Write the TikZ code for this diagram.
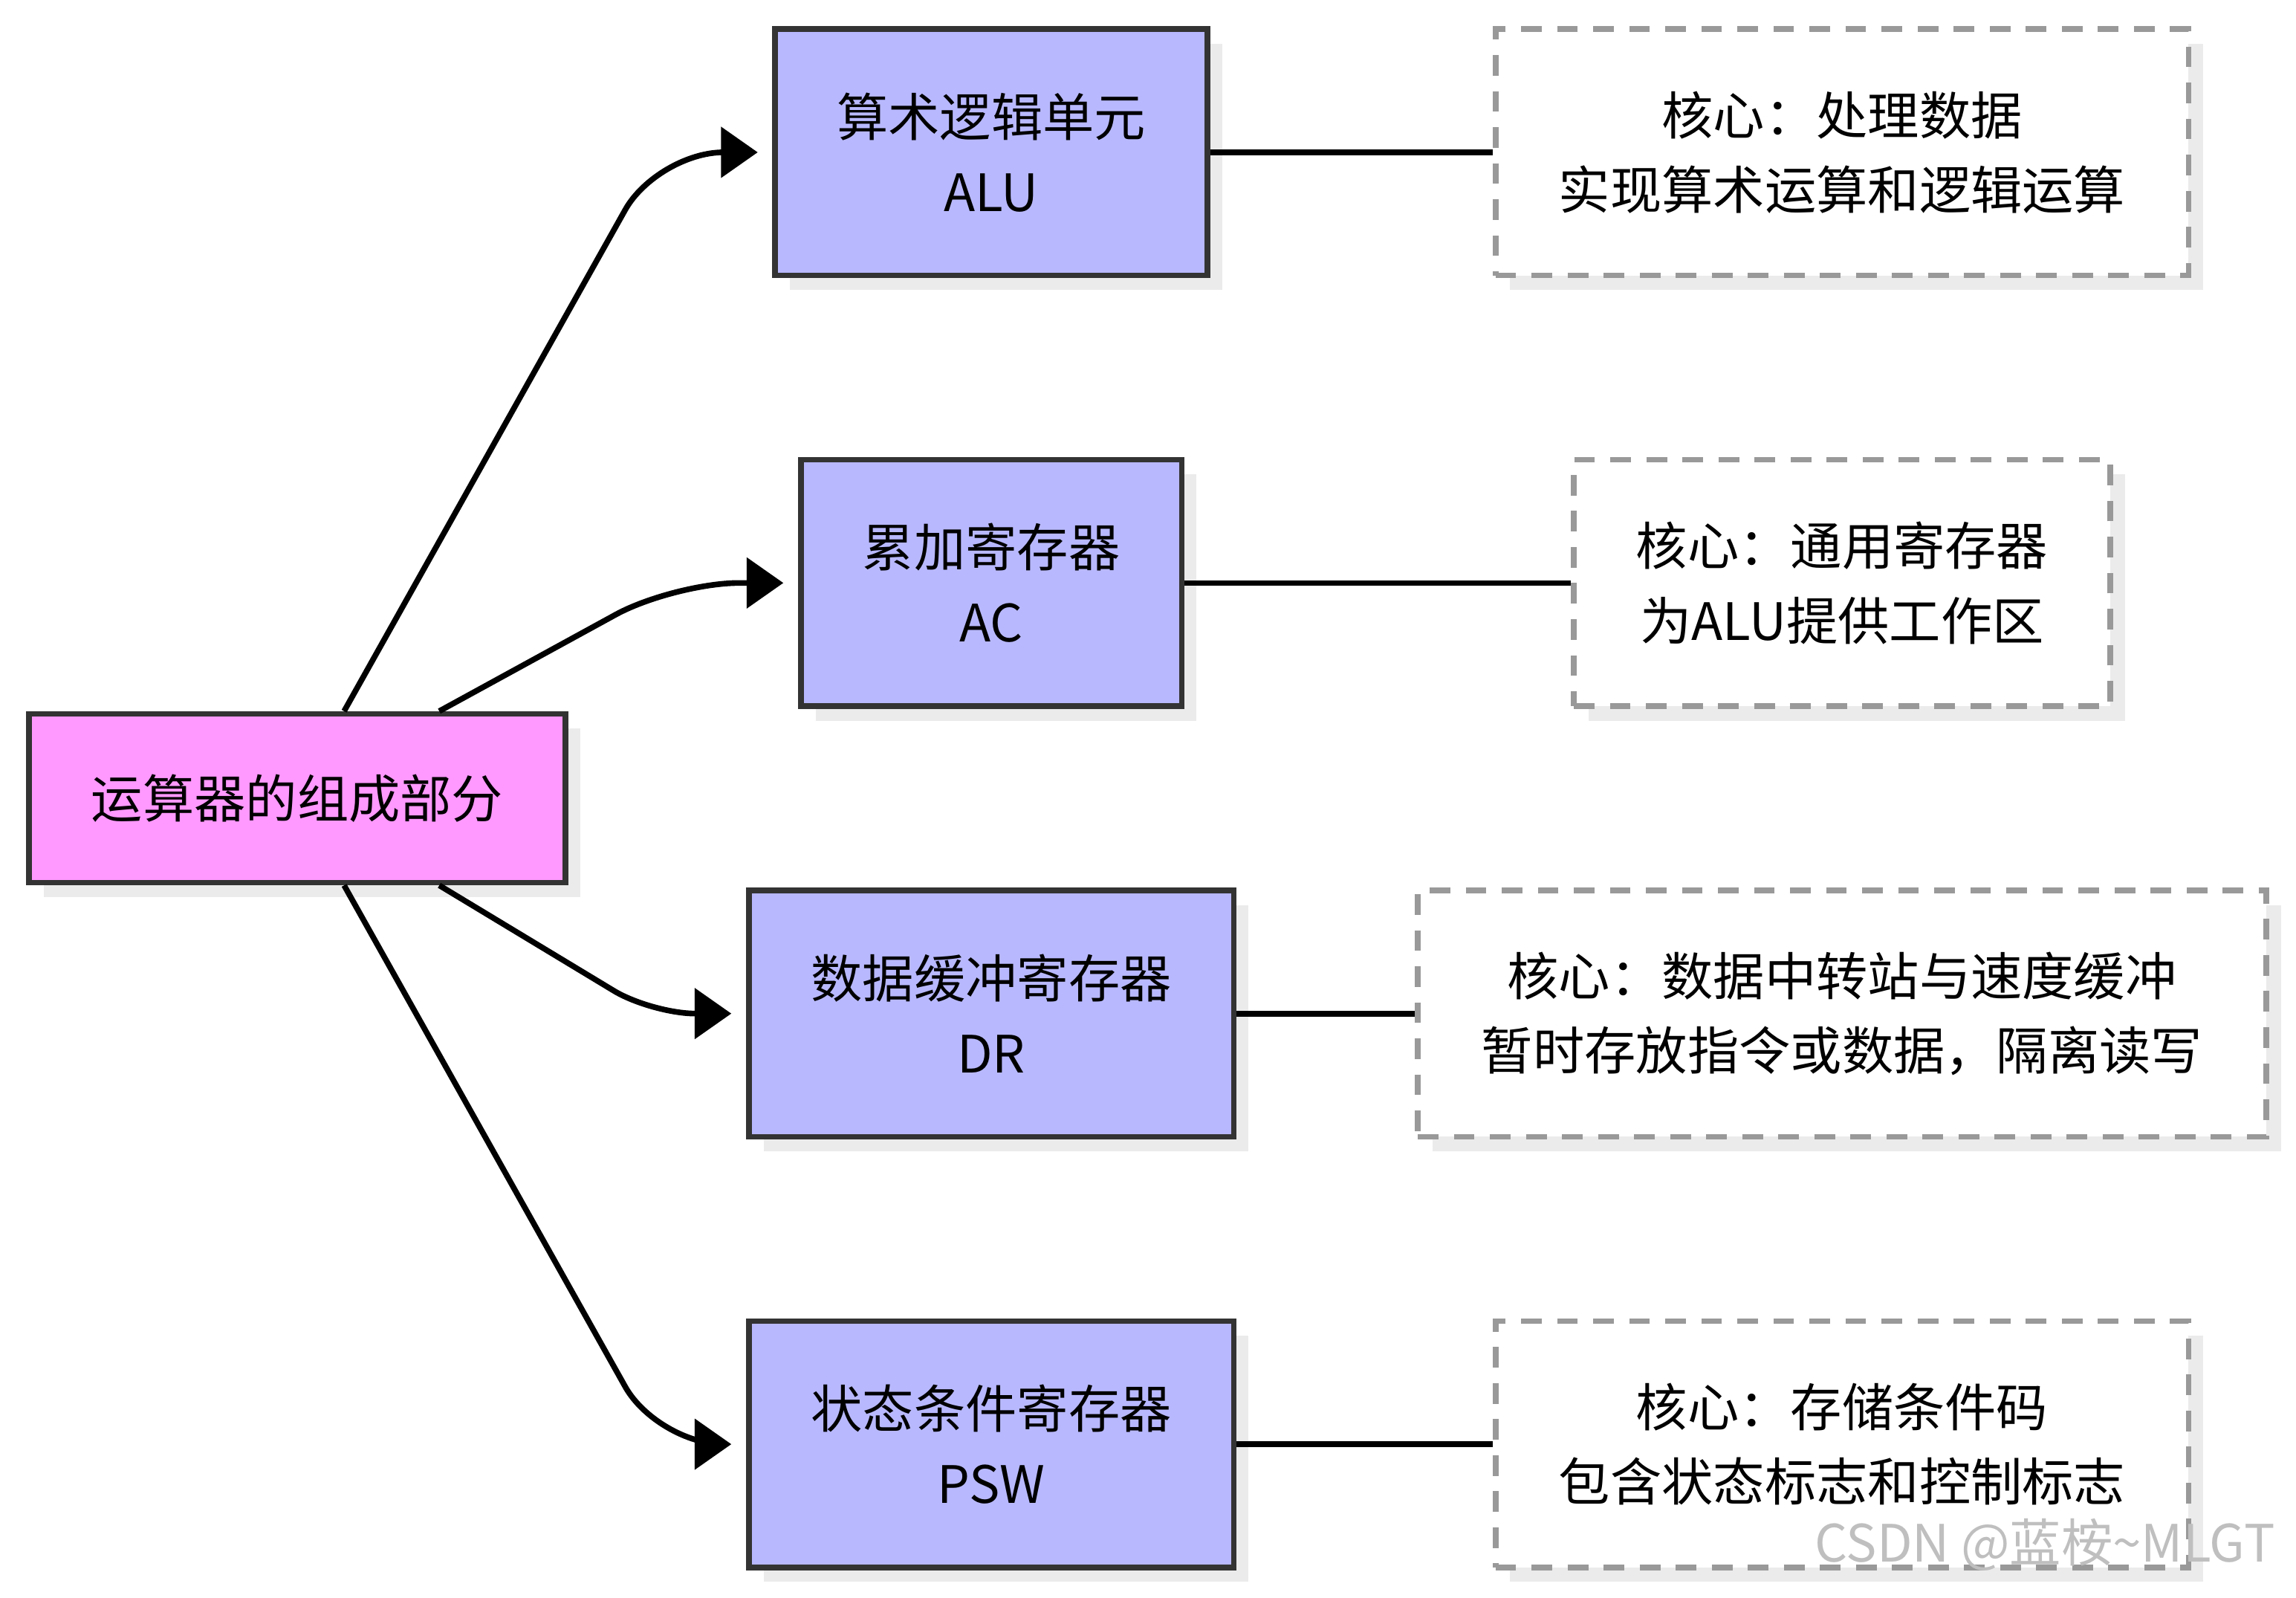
\documentclass[tikz,border=0pt]{standalone}
\usepackage{fontspec}
\setmainfont{Noto Sans CJK SC}
\usetikzlibrary{arrows.meta, positioning, calc, shadows}
\definecolor{rootpink}{HTML}{FF99FF}
\definecolor{partblue}{HTML}{B8B8FF}

\begin{document}
\begin{tikzpicture}[x=0.01cm, y=-0.01cm, font=\fontsize{10}{14.5}\selectfont,
    part/.style={draw=black!80, line width=1.1pt, fill=partblue, align=center,
        minimum height=1.68cm, inner sep=0pt, drop shadow={shadow xshift=0.1cm, shadow yshift=-0.1cm, fill=black!8, opacity=1}},
    note/.style={draw=black!40, dashed, line width=1.1pt, dash pattern=on 4pt off 3pt, fill=white, align=center,
        minimum height=1.68cm, inner sep=0pt, drop shadow={shadow xshift=0.1cm, shadow yshift=-0.1cm, fill=black!8, opacity=1}},
    arr/.style={line width=1.1pt, rounded corners=0.45cm, -{Triangle[length=0.25cm, width=0.34cm]}},
    link/.style={line width=1.1pt}]
    \useasboundingbox (0,0) rectangle (1568,1091);

    % Root
    \node[draw=black!80, line width=1.1pt, fill=rootpink, minimum width=3.66cm, minimum height=1.15cm,
        drop shadow={shadow xshift=0.1cm, shadow yshift=-0.1cm, fill=black!8, opacity=1}] (root) at (203,545) {运算器的组成部分};

    % Parts
    \node[part, minimum width=2.95cm] (alu) at (677,104) {算术逻辑单元\\ALU};
    \node[part, minimum width=2.60cm] (ac) at (677,398) {累加寄存器\\AC};
    \node[part, minimum width=3.31cm] (dr) at (677,692) {数据缓冲寄存器\\DR};
    \node[part, minimum width=3.31cm] (psw) at (677,986) {状态条件寄存器\\PSW};

    % Notes
    \node[note, minimum width=4.73cm] (nalu) at (1258,104) {核心：处理数据\\实现算术运算和逻辑运算};
    \node[note, minimum width=3.66cm] (nac) at (1258,398) {核心：通用寄存器\\为ALU提供工作区};
    \node[note, minimum width=5.79cm] (ndr) at (1258,692) {核心：数据中转站与速度缓冲\\暂时存放指令或数据，隔离读写};
    \node[note, minimum width=4.73cm] (npsw) at (1258,986) {核心：存储条件码\\包含状态标志和控制标志};

    % Arrows
    \draw[arr] ($(root.north)+(32,0)$) -- (449,104) -- ($(alu.west)+(-10,0)$);
    \draw[arr] ($(root.north)+(97,0)$) -- (460,398) -- ($(ac.west)+(-10,0)$);
    \draw[arr, rounded corners=0.3cm] ($(root.south)+(97,0)$) -- (445,692) -- ($(dr.west)+(-10,0)$);
    \draw[arr] ($(root.south)+(32,0)$) -- (449,986) -- ($(psw.west)+(-10,0)$);

    % Links
    \draw[link] (alu) -- (nalu);
    \draw[link] (ac) -- (nac);
    \draw[link] (dr) -- (ndr);
    \draw[link] (psw) -- (npsw);

    \node[text=black!25, anchor=south east] (mark) at (1566,1085) {CSDN @蓝桉\textasciitilde MLGT};
\end{tikzpicture}
\end{document}
